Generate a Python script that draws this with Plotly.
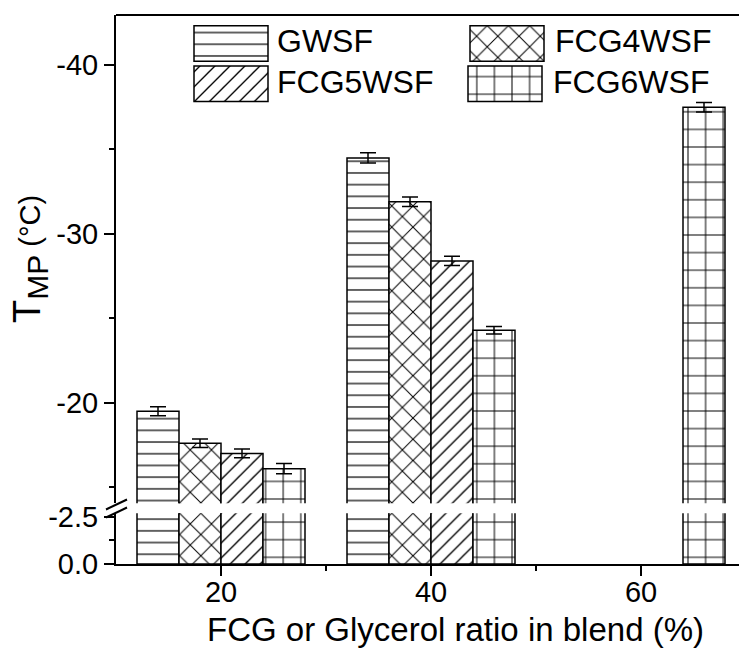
import plotly.graph_objects as go

# ---------------- data ----------------
categories = [20, 40, 60]
series_names = ["GWSF", "FCG4WSF", "FCG5WSF", "FCG6WSF"]
gwsf = [-19.5, -34.5, None]
fcg4wsf = [-17.6, -31.9, None]
fcg5wsf = [-17.0, -28.4, None]
fcg6wsf = [-16.1, -24.3, -37.5]
gwsf_err = [0.26, 0.30, 0]
fcg4wsf_err = [0.25, 0.28, 0]
fcg5wsf_err = [0.26, 0.27, 0]
fcg6wsf_err = [0.30, 0.22, 0.28]

upper_tickvals = [-40, -30, -20]
upper_ticktext = ["-40", "-30", "-20"]
lower_tickvals = [0, -2.5]
lower_ticktext = ["0.0", "-2.5"]
x_tickvals = [20, 40, 60]
x_ticktext = ["20", "40", "60"]

values = [gwsf, fcg4wsf, fcg5wsf, fcg6wsf]
errors = [gwsf_err, fcg4wsf_err, fcg5wsf_err, fcg6wsf_err]

# ---------------- styles ----------------
FONT = "Arial, Liberation Sans, sans-serif"
patterns = {
    "GWSF": dict(shape="-", size=11.7, solidity=0.12, fgcolor="#222222"),
    "FCG4WSF": dict(shape="x", size=15, solidity=0.13, fgcolor="black"),
    "FCG5WSF": dict(shape="/", size=10.6, solidity=0.13, fgcolor="black"),
    "FCG6WSF": dict(shape="+", size=17.6, solidity=0.11, fgcolor="black"),
}

W, H = 739, 649
ML, MR, MT, MB = 116, 0, 15, 85
PW, PH = W - ML - MR, H - MT - MB


def py(p):  # pixel y -> paper y
    return (H - MB - p) / PH


def px(p):  # pixel x -> paper x
    return (p - ML) / PW


fig = go.Figure()

for name, vals, errs in zip(series_names, values, errors):
    pat = dict(patterns[name], bgcolor="white", fillmode="replace")
    # lower segment
    fig.add_trace(go.Bar(
        x=categories, y=vals, name=name, xaxis="x", yaxis="y",
        marker=dict(color="white", pattern=pat, line=dict(color="black", width=1.5)),
        showlegend=False, hoverinfo="skip",
    ))
    # upper segment
    fig.add_trace(go.Bar(
        x=categories, y=vals, name=name, xaxis="x", yaxis="y2",
        marker=dict(color="white", pattern=pat, line=dict(color="black", width=1.5)),
        error_y=dict(type="data", array=errs, visible=True, color="black",
                     thickness=1.5, width=8),
        showlegend=False, hoverinfo="skip",
    ))

# ---------------- custom legend (pixel-space overlay axes) ----------------
leg_left = [78, 354, 78, 352]
leg_top = [10.7, 10.7, 51, 51]
leg_w = 74
leg_h = 35.5
leg_order = ["GWSF", "FCG4WSF", "FCG5WSF", "FCG6WSF"]
leg_text_x = [159, 437, 159, 435]
for i, name in enumerate(leg_order):
    pat = dict(patterns[name], bgcolor="white", fillmode="replace")
    fig.add_trace(go.Bar(
        x=[leg_left[i]], y=[leg_h], base=[leg_top[i]], width=[leg_w], offset=0,
        xaxis="x3", yaxis="y3",
        marker=dict(color="white", pattern=pat, line=dict(color="black", width=1.5)),
        showlegend=False, hoverinfo="skip",
    ))

annotations = []
for i, name in enumerate(leg_order):
    annotations.append(dict(
        x=leg_text_x[i], y=leg_top[i] + leg_h / 2 - 2, xref="x3", yref="y3",
        text=name, showarrow=False, xanchor="left", yanchor="middle",
        font=dict(family=FONT, size=32, color="black"),
    ))

# axis titles
annotations.append(dict(
    x=0.545, y=py(629), xref="paper", yref="paper",
    text="FCG or Glycerol ratio in blend (%)", showarrow=False,
    xanchor="center", yanchor="middle",
    font=dict(family=FONT, size=33, color="black"),
))
annotations.append(dict(
    x=px(30), y=py(259), xref="paper", yref="paper",
    text='T<sub><span style="font-size:30px">MP</span></sub><span style="font-size:29px"> (°C)</span>',
    showarrow=False, textangle=-90, xanchor="center", yanchor="middle",
    font=dict(family=FONT, size=38, color="black"),
))

axis_common = dict(
    showline=True, linecolor="black", linewidth=2, ticks="outside",
    ticklen=10, tickwidth=2, tickcolor="black", showgrid=False, zeroline=False,
    tickfont=dict(family=FONT, size=29, color="black"),
)

shapes = [
    # top frame line
    dict(type="line", xref="paper", yref="paper", x0=0, x1=1, y0=1, y1=1,
         line=dict(color="black", width=2)),
    # break marks
    dict(type="line", xref="paper", yref="paper", x0=px(106), x1=px(127),
         y0=py(509.5), y1=py(499.5), line=dict(color="black", width=2)),
    dict(type="line", xref="paper", yref="paper", x0=px(106), x1=px(127),
         y0=py(517.5), y1=py(507.5), line=dict(color="black", width=2)),
]

fig.update_layout(
    width=W, height=H,
    margin=dict(l=ML, r=MR, t=MT, b=MB),
    paper_bgcolor="white", plot_bgcolor="rgba(0,0,0,0)",
    barmode="group", bargap=0.2, bargroupgap=0,
    showlegend=False,
    xaxis=dict(axis_common, range=[10, 10 + PW / 10.5], anchor="y",
               tickmode="array", tickvals=x_tickvals, ticktext=x_ticktext,
               ticklabelstandoff=-9,
               minor=dict(tickmode="array", tickvals=[30, 50], ticklen=5,
                          tickwidth=2, tickcolor="black", ticks="outside")),
    yaxis=dict(axis_common, domain=[0, py(513.3)], range=[0, -2.68], anchor="x",
               tickmode="array", tickvals=lower_tickvals, ticktext=lower_ticktext,
               minor=dict(tickmode="array", tickvals=[-1.25], ticklen=5,
                          tickwidth=2, tickcolor="black", ticks="outside")),
    yaxis2=dict(axis_common, domain=[py(503.3), 1], range=[-14.05, -42.96], anchor="x",
                tickmode="array", tickvals=upper_tickvals, ticktext=upper_ticktext,
                minor=dict(tickmode="array", tickvals=[-35, -25, -15], ticklen=5,
                           tickwidth=2, tickcolor="black", ticks="outside")),
    xaxis3=dict(domain=[0, 1], range=[0, PW], anchor="y3", visible=False, fixedrange=True),
    yaxis3=dict(domain=[0, 1], range=[PH, 0], anchor="x3", visible=False, fixedrange=True),
    annotations=annotations,
    shapes=shapes,
)

fig.write_html("out.html")
